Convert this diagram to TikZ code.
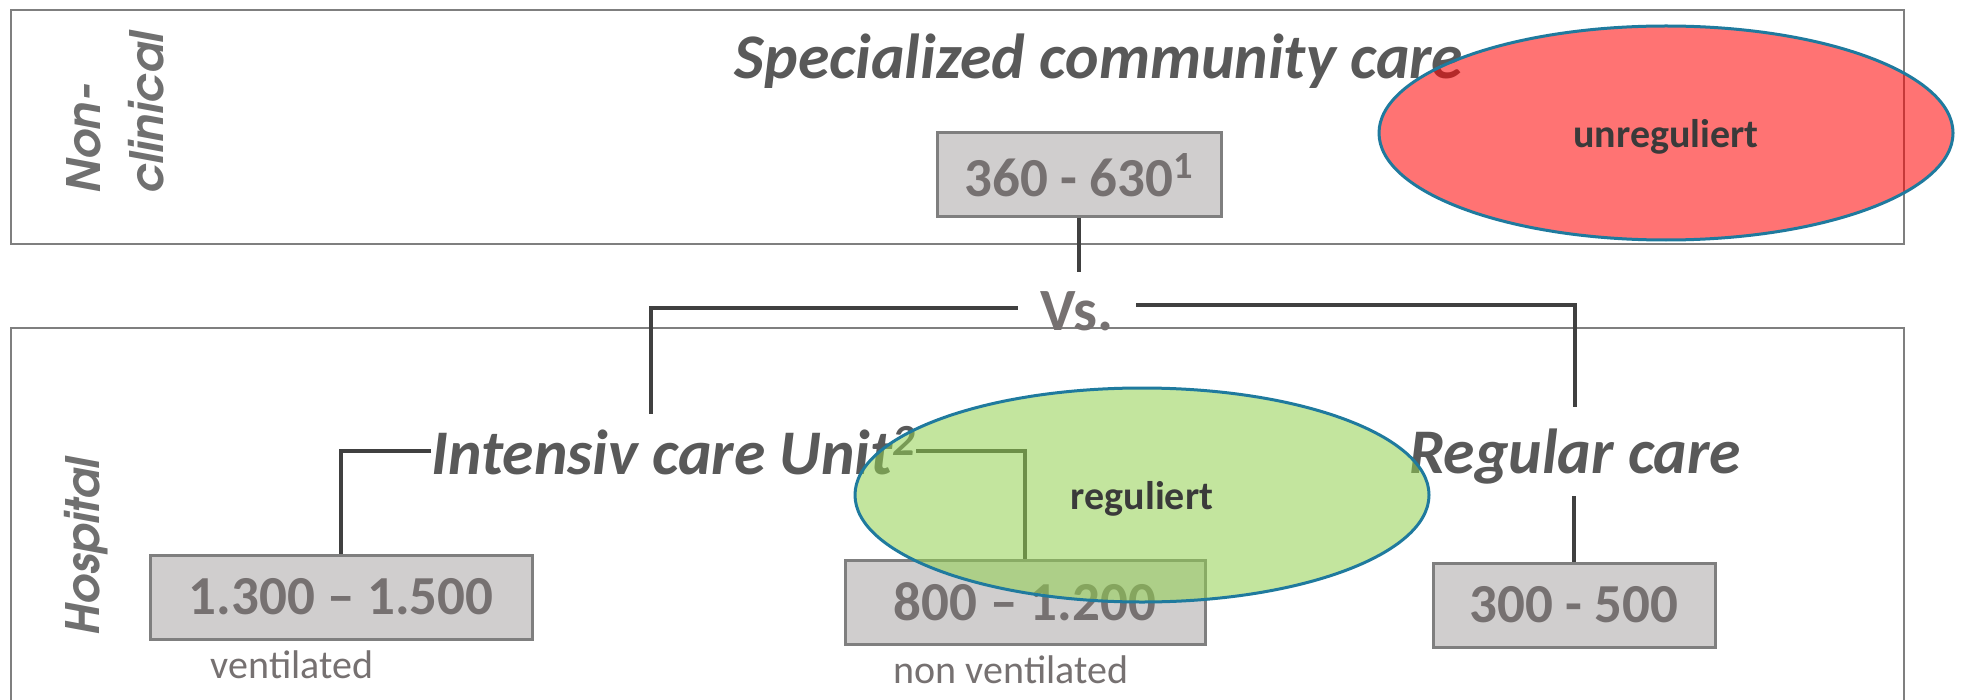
\documentclass[tikz,border=0pt]{standalone}
\usepackage{fontspec}
\setmainfont{Carlito}
\newfontfamily\gothic{TeX Gyre Adventor}
\usetikzlibrary{shapes.geometric}
\definecolor{boxfill}{HTML}{D0CECE}
\definecolor{boxline}{HTML}{7F7F7F}
\definecolor{numtext}{HTML}{767171}
\definecolor{titletext}{HTML}{595959}
\definecolor{sidetext}{HTML}{707070}
\definecolor{connline}{HTML}{404040}
\definecolor{ellline}{HTML}{1F7A9E}
\definecolor{ellred}{HTML}{FF0000}
\definecolor{ellgreen}{HTML}{92D050}
\definecolor{elltext}{HTML}{3A3A3A}
\tikzset{
  frame/.style={draw=boxline, line width=1.25pt},
  conn/.style={draw=connline, line width=2pt},
  numbox/.style={draw=boxline, fill=boxfill, line width=1.5pt, text=numtext,
    font=\fontsize{27.5}{32}\selectfont\bfseries, inner sep=0pt, minimum height=42pt},
  heading/.style={text=titletext, font=\fontsize{31.8}{37}\selectfont\bfseries\itshape, inner sep=0pt},
  note/.style={text=numtext, font=\fontsize{20}{24}\selectfont, inner sep=0pt},
  sidelabel/.style={text=sidetext, font=\gothic\fontsize{23}{31.5}\selectfont\bfseries\itshape,
    rotate=90, inner sep=0pt, align=left},
  blob/.style={ellipse, draw=ellline, line width=1.5pt, fill opacity=0.55, text opacity=1,
    text=elltext, font=\fontsize{20}{24}\selectfont\bfseries, text depth=0pt,
    minimum width=287pt, minimum height=107pt, inner sep=0pt}
}
\begin{document}
\begin{tikzpicture}[x=0.5pt,y=-0.5pt]
\useasboundingbox (0,0) rectangle (1962,700);
\fill[white] (0,0) rectangle (1962,700);

% frames
\draw[frame] (11,10) rectangle (1904,244);
\draw[frame] (11,702) -- (11,328) -- (1904,328) -- (1904,702);

% side labels
\node[sidelabel, anchor=south west] (nonclin) at (164,194) {Non-\\clinical};
\node[sidelabel, anchor=base west] (hosp) at (99,636) {Hospital};

% headings
\node[heading, anchor=base] (scc) at (1099,79) {Specialized community care};
\node[heading, anchor=base west] (icu) at (431,474) {Intensiv care Unit\textsuperscript{2}};
\node[heading, anchor=base] (reg) at (1575,473) {Regular care};
\node[text=numtext, font=\fontsize{30}{36}\selectfont\bfseries, inner ysep=0pt, inner xsep=0pt,
      outer xsep=11.5pt, outer ysep=9.5pt, anchor=base] (vs) at (1077,330) {Vs.};

% number boxes
\node[numbox, minimum width=142pt] (b630) at (1079,175) {360 - 630\textsuperscript{1}};
\node[numbox, minimum width=191pt] (b1300) at (341,597) {1.300 – 1.500};
\node[numbox, minimum width=180pt] (b800) at (1025,602) {800 – 1.200};
\node[numbox, minimum width=141pt] (b300) at (1574,605) {300 - 500};

% notes
\node[note, anchor=base] (vent) at (292,678) {ventilated};
\node[note, anchor=base] (nonvent) at (1011,683) {non ventilated};

% connectors
\coordinate (icuup) at (651,414);
\draw[conn] (b630.south) -- (b630.south |- vs.north);
\draw[conn] ([yshift=1.5pt]vs.west) -| (icuup);
\draw[conn] ([yshift=3pt]vs.east) -| ([yshift=10.5pt]reg.north);
\draw[conn] (icu.west) -| (b1300.north);
\draw[conn] (icu.east) -| (b800.north);
\draw[conn] ([yshift=-6pt]b300.north |- reg.south) -- (b300.north);

% ellipses
\node[blob, fill=ellred] (unreg) at (1666,133) {unreguliert};
\node[blob, fill=ellgreen] (regul) at (1142,495) {reguliert};
\end{tikzpicture}
\end{document}
